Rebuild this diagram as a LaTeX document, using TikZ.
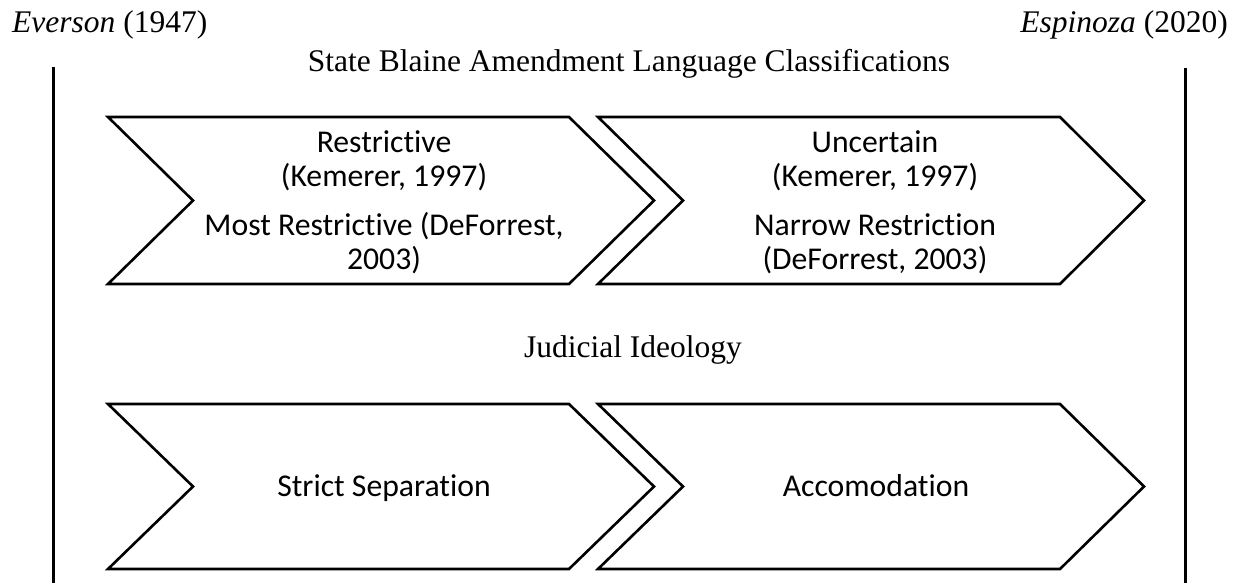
\documentclass[tikz,border=0pt]{standalone}
\usepackage{fontspec}
\setmainfont{Liberation Serif}
\newfontfamily\calib[Ligatures=NoCommon]{Carlito}
\begin{document}
\begin{tikzpicture}[x=1pt,y=-1pt,
  chev/.style={draw=black,line width=2.6pt,line join=miter},
  tline/.style={draw=black,line width=3pt},
  serif/.style={font=\fontsize{31.5}{36}\selectfont,inner sep=0pt,anchor=base},
  cal/.style={font=\calib\fontsize{31.7}{34}\selectfont,inner sep=0pt,anchor=base}]
\useasboundingbox[fill=white] (0,0) rectangle (1247,583);
% headings
\node[serif,anchor=base west] (ev) at (12,33) {\textit{Everson} (1947)};
\node[serif,anchor=base east] (es) at (1228,33) {\textit{Espinoza} (2020)};
\node[serif] (t1) at (629,72) {State Blaine Amendment Language Classifications};
\node[serif] (t2) at (633,357) {Judicial Ideology};
% timeline lines
\coordinate (l1) at (53,67);
\coordinate (l2) at (53,583);
\coordinate (r1) at (1185,68);
\coordinate (r2) at (1185,583);
\draw[tline] (l1) -- (l2);
\draw[tline] (r1) -- (r2);
% chevrons, top row
\draw[chev] (108,117) -- (569,117) -- (654,200.5) -- (569,284) -- (108,284) -- (193,200.5) -- cycle;
\draw[chev] (598,117) -- (1060,117) -- (1144,200.5) -- (1060,284) -- (598,284) -- (683,200.5) -- cycle;
% chevrons, bottom row
\draw[chev] (108,404) -- (569,404) -- (654,486.5) -- (569,569) -- (108,569) -- (193,486.5) -- cycle;
\draw[chev] (598,404) -- (1060,404) -- (1144,486.5) -- (1060,569) -- (598,569) -- (683,486.5) -- cycle;
% texts, top row
\node[cal] (a1) at (384,152) {Restrictive};
\node[cal] (a2) at (384,186) {(Kemerer, 1997)};
\node[cal] (a3) at (384,235) {Most Restrictive (DeForrest,};
\node[cal] (a4) at (384,269) {2003)};
\node[cal] (b1) at (875,152) {Uncertain};
\node[cal] (b2) at (875,186) {(Kemerer, 1997)};
\node[cal] (b3) at (875,235) {Narrow Restriction};
\node[cal] (b4) at (875,269) {(DeForrest, 2003)};
% texts, bottom row
\node[cal] (c1) at (384,496) {Strict Separation};
\node[cal] (d1) at (876,496) {Accomodation};
\end{tikzpicture}
\end{document}
